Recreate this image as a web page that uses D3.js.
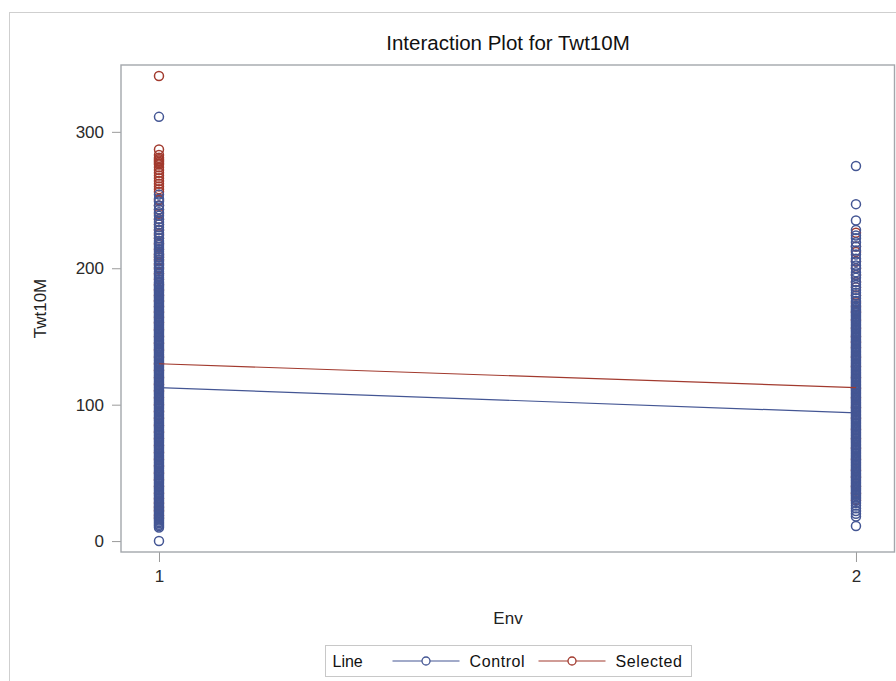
<!DOCTYPE html>
<html>
<head>
<meta charset="utf-8">
<script src="https://cdn.jsdelivr.net/npm/d3@7"></script>
<style>
  body { margin: 0; background: #fff; }
  text { font-family: "Liberation Sans", Arial, sans-serif; }
</style>
</head>
<body>
<div id="chart"></div>
<script>
// data
const envLevels = [1, 2];
const yTicks = [0, 100, 200, 300];
const groups = ['Control', 'Selected'];

// group means (the interaction lines)
const controlMeans = [112.5, 94];
const selectedMeans = [130, 112.5];

// observations, Control at Env 1
const controlEnv1 = [
  0, 10, 11, 12, 13, 14, 15, 16, 17, 18, 19, 20, 21, 22, 23, 24, 25, 26, 27, 28, 29, 30, 31, 32,
  33, 34, 35, 36, 37, 38, 39, 40, 41, 42, 43, 44, 45, 46, 47, 48, 49, 50, 51, 52, 53, 54, 55, 56,
  57, 58, 59, 60, 61, 62, 63, 64, 65, 66, 67, 68, 69, 70, 71, 72, 73, 74, 75, 76, 77, 78, 79, 80,
  81, 82, 83, 84, 85, 86, 87, 88, 89, 90, 91, 92, 93, 94, 95, 96, 97, 98, 99, 100, 101, 102, 103,
  104, 105, 106, 107, 108, 109, 110, 111, 112, 113, 114, 115, 116, 117, 118, 119, 120, 121, 122,
  123, 124, 125, 126, 127, 128, 129, 130, 131, 132, 133, 134, 135, 136, 137, 138, 139, 140, 141,
  142, 143, 144, 145, 146, 147, 148, 149, 150, 151, 152, 153, 154, 155, 156, 157, 158, 159, 160,
  161, 162, 163, 164, 165, 166, 167, 168, 169, 170, 171, 172, 173, 174, 175, 176, 177, 178, 179,
  180, 181, 182, 183, 184, 185, 186, 187, 188, 189, 190, 191.5, 193, 194.5, 196, 197.5, 199, 200.5,
  202, 203.5, 205, 206.5, 208, 209.5, 211, 212.5, 214, 215.5, 217, 218.5, 220, 222, 224, 226, 228,
  230, 232, 234, 236, 238.5, 241, 243, 246, 249, 251, 254, 311
];

// observations, Selected at Env 1
const selectedEnv1 = [
  341, 287, 283, 281, 280, 279, 278, 277, 276, 274, 272, 270, 268, 266, 264, 262, 260, 258, 256,
  250, 246, 243, 240, 236, 232, 228, 225, 222, 218, 214, 210, 208, 206, 203, 200, 196, 192, 188,
  184, 180, 176, 172, 168, 164, 160, 155, 150, 145, 140, 135, 130, 125, 120, 115, 110, 105, 100,
  95, 90, 85, 80, 75, 70, 65, 60, 55, 50, 45, 40, 35, 31, 28, 25, 22, 19, 17
];

// observations, Control at Env 2
const controlEnv2 = [
  11, 18, 20, 22, 24, 26, 28, 29.5, 31, 32, 33, 34, 35, 36, 37, 38, 39, 40, 41, 42, 43, 44, 45, 46,
  47, 48, 49, 50, 51, 52, 53, 54, 55, 56, 57, 58, 59, 60, 61, 62, 63, 64, 65, 66, 67, 68, 69, 70,
  71, 72, 73, 74, 75, 76, 77, 78, 79, 80, 81, 82, 83, 84, 85, 86, 87, 88, 89, 90, 91, 92, 93, 94,
  95, 96, 97, 98, 99, 100, 101, 102, 103, 104, 105, 106, 107, 108, 109, 110, 111, 112, 113, 114,
  115, 116, 117, 118, 119, 120, 121, 122, 123, 124, 125, 126, 127, 128, 129, 130, 131, 132, 133,
  134, 135, 136, 137, 138, 139, 140, 141, 142, 143, 144, 145, 146, 147, 148, 149, 150, 151, 152,
  153, 154, 155, 156, 157, 158, 159, 160, 161, 162, 163, 164, 165, 166, 167, 168, 169, 170, 171,
  172.5, 174, 176, 178, 180, 182, 184, 186, 188, 190, 193, 195, 197, 200, 202, 205, 207, 210,
  213, 216, 219, 222, 224, 228, 235, 247, 275
];

// observations, Selected at Env 2
const selectedEnv2 = [
  30, 35, 40, 47, 52, 60, 68, 75, 82, 90, 98, 105, 112, 120, 128, 135, 142, 146, 150, 156, 162,
  168, 172, 175, 180, 186, 190, 195, 200, 205, 212, 216, 226
];

const svgWidth = 896;
const svgHeight = 681;

const margin = {
  top: 65,
  right: 1,
  bottom: 129,
  left: 121
};

const height = svgHeight - margin.top - margin.bottom;
const width = svgWidth - margin.left - margin.right;

const colors = { Control: '#445694', Selected: '#a23a2e' };

const svg = d3.select('#chart')
  .append('svg')
  .attr('width', svgWidth)
  .attr('height', svgHeight);

// outer frame
svg.append('rect')
  .attr('x', 9.5).attr('y', 12.5)
  .attr('width', 900).attr('height', 700)
  .attr('fill', 'none')
  .attr('stroke', '#cfcfcf');

svg.append('text')
  .attr('x', margin.left + width / 2)
  .attr('y', 50)
  .attr('text-anchor', 'middle')
  .style('font-size', '20.5px')
  .attr('fill', '#111')
  .text('Interaction Plot for Twt10M');

const chartGroup = svg.append('g')
  .attr('transform', `translate(${margin.left}, ${margin.top})`);

const xScale = d3.scaleLinear()
  .domain([0.9455, 2.056])
  .range([0, width]);

const yScale = d3.scaleLinear()
  .domain([-8, 349])
  .range([height, 0]);

// axes
const yAxis = chartGroup.append('g')
  .call(d3.axisLeft(yScale).tickValues(yTicks).tickSize(9).tickPadding(8));
const xAxis = chartGroup.append('g')
  .attr('transform', `translate(0, ${height})`)
  .call(d3.axisBottom(xScale).tickValues(envLevels).tickFormat(d3.format('d')).tickSize(10).tickPadding(8));

[yAxis, xAxis].forEach(ax => {
  ax.select('.domain').remove();
  ax.selectAll('line').attr('stroke', '#9a9a9a');
  ax.selectAll('text')
    .attr('fill', '#2a2a2a')
    .style('font-size', '17px')
    .style('font-family', '"Liberation Sans", Arial, sans-serif');
});

// plot box
chartGroup.append('rect')
  .attr('x', 0).attr('y', 0)
  .attr('width', width - 0.5).attr('height', height)
  .attr('fill', 'none')
  .attr('stroke', '#a3a7ac')
  .attr('stroke-width', 1.4);

// axis labels
chartGroup.append('text')
  .attr('x', width / 2)
  .attr('y', height + 72)
  .attr('text-anchor', 'middle')
  .style('font-size', '17px')
  .attr('fill', '#222')
  .text('Env');

chartGroup.append('text')
  .attr('transform', 'rotate(-90)')
  .attr('x', -height / 2)
  .attr('y', -75)
  .attr('text-anchor', 'middle')
  .style('font-size', '17px')
  .attr('fill', '#222')
  .text('Twt10M');

// points: Selected under, Control on top
const points = [];
selectedEnv1.forEach(v => points.push({ g: 'Selected', env: 1, v }));
selectedEnv2.forEach(v => points.push({ g: 'Selected', env: 2, v }));
controlEnv1.forEach(v => points.push({ g: 'Control', env: 1, v }));
controlEnv2.forEach(v => points.push({ g: 'Control', env: 2, v }));

chartGroup.selectAll('circle.pt')
  .data(points)
  .enter()
  .append('circle')
  .attr('class', 'pt')
  .attr('cx', d => xScale(d.env))
  .attr('cy', d => yScale(d.v))
  .attr('r', 4.5)
  .attr('fill', 'none')
  .attr('stroke', d => colors[d.g])
  .attr('stroke-width', 1.5);

// mean lines
const line = d3.line()
  .x((d, i) => xScale(envLevels[i]))
  .y(d => yScale(d));

[['Control', controlMeans], ['Selected', selectedMeans]].forEach(([g, means]) => {
  chartGroup.append('path')
    .attr('d', line(means))
    .attr('fill', 'none')
    .attr('stroke', colors[g])
    .attr('stroke-width', 1.2);
});

// legend
const legend = svg.append('g').attr('transform', 'translate(325.5, 645.5)');
legend.append('rect')
  .attr('width', 366).attr('height', 31)
  .attr('fill', '#fff')
  .attr('stroke', '#c8c8c8');
legend.append('text')
  .attr('x', 7).attr('y', 21)
  .style('font-size', '16px')
  .attr('fill', '#111')
  .text('Line');

const entryX = [67, 213];
groups.forEach((g, i) => {
  const e = legend.append('g').attr('transform', `translate(${entryX[i]}, 15.5)`);
  e.append('line')
    .attr('x1', 0).attr('x2', 67)
    .attr('stroke', colors[g])
    .attr('stroke-width', 1.2);
  e.append('circle')
    .attr('cx', 33.5).attr('r', 4)
    .attr('fill', '#fff')
    .attr('stroke', colors[g])
    .attr('stroke-width', 1.3);
  e.append('text')
    .attr('x', 77).attr('y', 6)
    .style('font-size', '16px')
    .style('letter-spacing', '0.6px')
    .attr('fill', '#111')
    .text(g);
});
</script>
</body>
</html>
